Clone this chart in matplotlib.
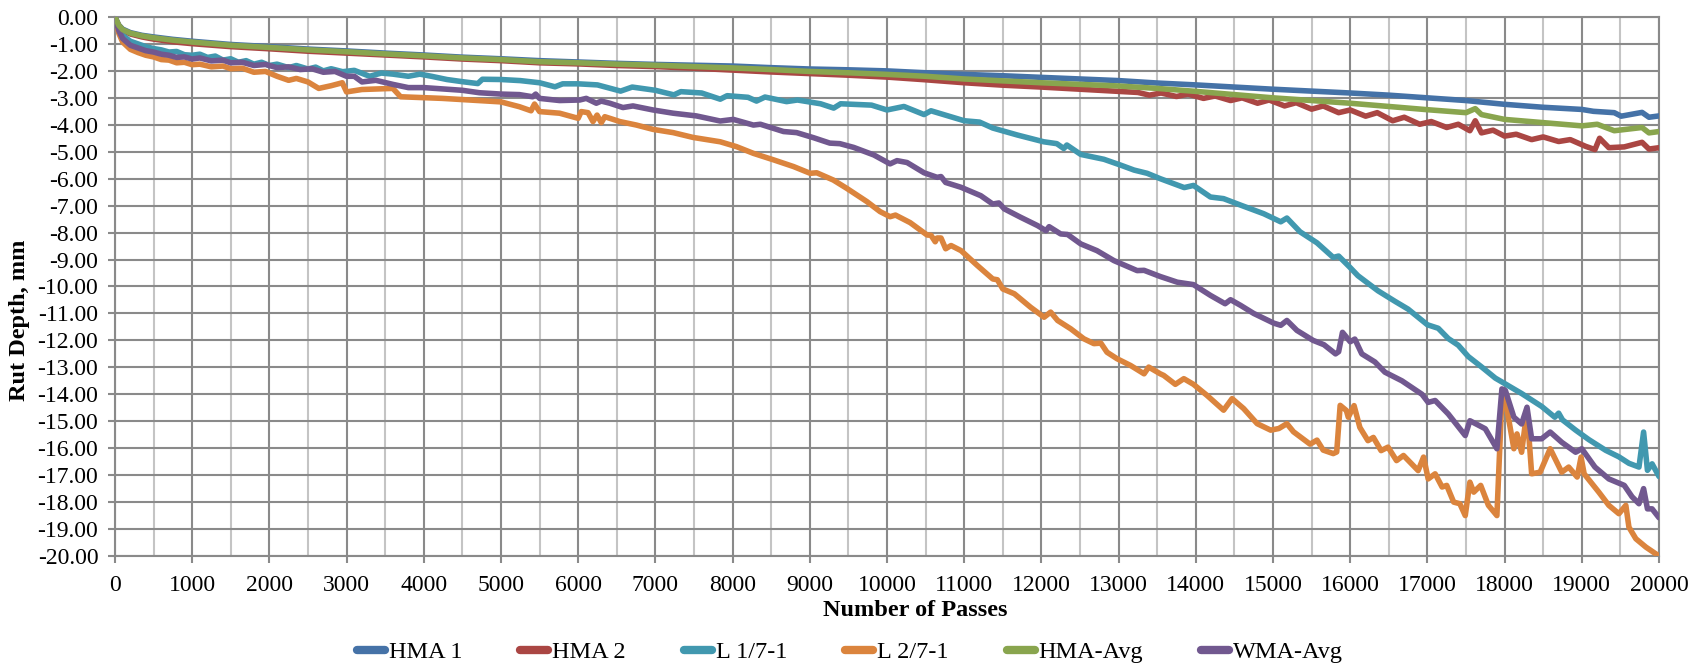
import matplotlib
matplotlib.use("Agg")
import matplotlib.pyplot as plt
from matplotlib.ticker import MultipleLocator, FormatStrFormatter

plt.rcParams['font.family'] = ['Liberation Serif', 'DejaVu Serif']

# ---- data (passes, rut depth mm) ----
x_hma1 = [0, 25, 50, 100, 200, 350, 500, 750, 1000, 1500, 2000, 2500, 3000, 3500, 4000,
          4500, 5000, 5500, 6000, 6500, 7000, 7500, 8000, 8500, 9000, 9500, 10000, 10500,
          11000, 11500, 12000, 12500, 13000, 13500, 14000, 14500, 15000, 15500, 16000,
          16500, 17000, 17500, 18000, 18500, 19000, 19150, 19420, 19510, 19780, 19870, 20000]
y_hma1 = [0, -0.15, -0.3, -0.45, -0.58, -0.68, -0.74, -0.83, -0.9, -1.02, -1.1, -1.19, -1.26,
          -1.34, -1.41, -1.49, -1.55, -1.62, -1.67, -1.72, -1.76, -1.79, -1.82, -1.88, -1.93,
          -1.96, -2.0, -2.07, -2.13, -2.18, -2.24, -2.3, -2.36, -2.45, -2.52, -2.6, -2.68,
          -2.75, -2.82, -2.9, -3.0, -3.1, -3.24, -3.35, -3.43, -3.5, -3.55, -3.68, -3.54,
          -3.72, -3.67]

x_hma2 = [0, 25, 50, 100, 200, 350, 500, 750, 1000, 1500, 2000, 2500, 3000, 3500, 4000,
          4500, 5000, 5500, 6000, 6500, 7000, 7500, 8000, 8500, 9000, 9500, 10000, 10500,
          11000, 11500, 12000, 12500, 13000, 13250, 13400, 13550, 13750, 13900, 14100,
          14250, 14450, 14600, 14800, 14950, 15150, 15300, 15500, 15650, 15850, 16000,
          16200, 16350, 16550, 16700, 16900, 17050, 17250, 17400, 17550, 17620, 17700,
          17850, 18000, 18150, 18350, 18500, 18700, 18850, 19050, 19170, 19230, 19350,
          19550, 19780, 19870, 20000]
y_hma2 = [0, -0.18, -0.33, -0.5, -0.63, -0.74, -0.82, -0.92, -0.99, -1.1, -1.18, -1.27, -1.34,
          -1.41, -1.48, -1.56, -1.62, -1.7, -1.74, -1.8, -1.84, -1.9, -1.97, -2.04, -2.1,
          -2.16, -2.23, -2.33, -2.44, -2.53, -2.6, -2.68, -2.76, -2.8, -2.9, -2.82, -2.95,
          -2.86, -3.02, -2.93, -3.1, -3.0, -3.2, -3.08, -3.3, -3.18, -3.42, -3.3, -3.55,
          -3.45, -3.68, -3.55, -3.85, -3.72, -3.98, -3.88, -4.1, -3.98, -4.22, -3.85, -4.3,
          -4.2, -4.42, -4.35, -4.55, -4.45, -4.62, -4.55, -4.8, -4.92, -4.5, -4.85, -4.82,
          -4.65, -4.9, -4.85]

x_l17 = [0, 25, 50, 100, 200, 300, 400, 500, 600, 700, 800, 900, 1000, 1100, 1200, 1300,
         1400, 1500, 1600, 1700, 1800, 1900, 2000, 2100, 2250, 2350, 2500, 2600, 2700, 2800,
         2950, 3100, 3300, 3450, 3600, 3800, 3950, 4100, 4300, 4500, 4700, 4760, 5000, 5250,
         5500, 5700, 5800, 6000, 6250, 6550, 6700, 7000, 7240, 7330, 7600, 7840, 7930, 8200,
         8310, 8420, 8700, 8840, 9140, 9310, 9400, 9800, 10000, 10220, 10480, 10570, 11000,
         11200, 11370, 11690, 12030, 12200, 12290, 12330, 12510, 12810, 13030, 13200, 13370,
         13540, 13850, 13970, 14190, 14360, 14580, 14880, 15100, 15180, 15350, 15570, 15780,
         15850, 16000, 16100, 16360, 16580, 16750, 17000, 17140, 17270, 17400, 17530, 17700,
         17880, 18000, 18220, 18480, 18650, 18700, 18750, 18920, 19090, 19310, 19480, 19610,
         19740, 19800, 19850, 19910, 20000]
y_l17 = [0, -0.2, -0.45, -0.68, -0.9, -1.0, -1.1, -1.17, -1.22, -1.3, -1.28, -1.4, -1.42,
         -1.38, -1.5, -1.45, -1.6, -1.55, -1.68, -1.62, -1.75, -1.68, -1.8, -1.75, -1.88,
         -1.8, -1.93, -1.86, -2.0, -1.92, -2.03, -1.98, -2.2, -2.08, -2.12, -2.2, -2.12, -2.2,
         -2.32, -2.4, -2.47, -2.31, -2.32, -2.36, -2.44, -2.59, -2.48, -2.48, -2.52, -2.75,
         -2.6, -2.72, -2.89, -2.77, -2.82, -3.05, -2.92, -2.98, -3.12, -2.97, -3.14, -3.08,
         -3.22, -3.38, -3.22, -3.27, -3.45, -3.32, -3.62, -3.48, -3.85, -3.9, -4.12, -4.38,
         -4.63, -4.7, -4.88, -4.75, -5.1, -5.28, -5.5, -5.68, -5.8, -6.0, -6.33, -6.25, -6.68,
         -6.74, -6.98, -7.3, -7.6, -7.46, -7.97, -8.38, -8.92, -8.87, -9.3, -9.6, -10.16,
         -10.55, -10.84, -11.42, -11.55, -11.93, -12.18, -12.6, -12.98, -13.4, -13.6, -13.97,
         -14.45, -14.85, -14.7, -14.95, -15.33, -15.68, -16.08, -16.32, -16.56, -16.7, -15.4,
         -16.82, -16.58, -17.05]

x_l27 = [0, 25, 50, 100, 200, 300, 400, 500, 600, 700, 800, 900, 1000, 1100, 1250, 1400,
         1500, 1650, 1800, 1950, 2100, 2250, 2350, 2500, 2640, 2800, 2945, 3000, 3200, 3600,
         3700, 4240, 5000, 5240, 5390, 5435, 5500, 5760, 6000, 6040, 6128, 6192, 6245, 6300,
         6345, 6540, 6755, 6970, 7230, 7490, 7840, 8050, 8270, 8530, 8790, 9005, 9090, 9305,
         9480, 9740, 9910, 10040, 10110, 10300, 10520, 10570, 10625, 10650, 10700, 10760,
         10830, 10960, 11170, 11370, 11430, 11500, 11650, 11860, 12035, 12120, 12210, 12380,
         12550, 12680, 12770, 12850, 12980, 13155, 13330, 13390, 13540, 13585, 13735, 13845,
         13970, 14145, 14360, 14470, 14620, 14795, 14970, 15075, 15180, 15265, 15480, 15570,
         15650, 15780, 15825, 15870, 15950, 15975, 16050, 16125, 16230, 16300, 16400, 16490,
         16600, 16690, 16880, 16950, 17010, 17100, 17190, 17250, 17340, 17420, 17490, 17550,
         17600, 17690, 17790, 17900, 17965, 18010, 18120, 18160, 18220, 18290, 18350, 18460,
         18590, 18740, 18830, 18940, 18990, 19030, 19220, 19350, 19480, 19570, 19610, 19700,
         19830, 20000]
y_l27 = [0, -0.3, -0.6, -0.93, -1.2, -1.32, -1.42, -1.48, -1.58, -1.6, -1.7, -1.68, -1.77,
         -1.75, -1.85, -1.82, -1.92, -1.9, -2.05, -2.02, -2.2, -2.35, -2.28, -2.41, -2.65,
         -2.55, -2.44, -2.78, -2.69, -2.65, -2.96, -3.02, -3.15, -3.33, -3.48, -3.23, -3.51,
         -3.57, -3.76, -3.51, -3.55, -3.88, -3.64, -3.92, -3.7, -3.88, -4.01, -4.17, -4.29,
         -4.47, -4.63, -4.81, -5.06, -5.3, -5.55, -5.8, -5.78, -6.05, -6.36, -6.85, -7.22,
         -7.41, -7.35, -7.63, -8.09, -8.1, -8.34, -8.2, -8.2, -8.6, -8.48, -8.67, -9.22,
         -9.72, -9.75, -10.09, -10.27, -10.77, -11.14, -10.95, -11.26, -11.57, -11.94, -12.12,
         -12.1, -12.44, -12.68, -12.93, -13.24, -12.99, -13.24, -13.3, -13.63, -13.42, -13.63,
         -14.04, -14.59, -14.16, -14.53, -15.09, -15.33, -15.27, -15.09, -15.39, -15.85,
         -15.7, -16.07, -16.2, -16.14, -14.41, -14.6, -14.85, -14.42, -15.23, -15.72, -15.6,
         -16.09, -15.96, -16.46, -16.27, -16.83, -16.33, -17.14, -16.95, -17.44, -17.38,
         -18.0, -18.06, -18.5, -17.26, -17.63, -17.38, -18.12, -18.5, -14.11, -14.23, -16.02,
         -15.47, -16.15, -14.6, -16.95, -16.89, -16.02, -16.89, -16.7, -17.07, -16.33, -16.95,
         -17.63, -18.12, -18.43, -18.12, -18.93, -19.36, -19.67, -20.0]

x_hmaavg = [0, 25, 50, 100, 200, 350, 500, 750, 1000, 1500, 2000, 2500, 3000, 3500, 4000,
            4500, 5000, 5500, 6000, 6500, 7000, 7500, 8000, 8500, 9000, 9500, 10000, 10500,
            11000, 11500, 12000, 12500, 13000, 13500, 14000, 14500, 15000, 15500, 16000,
            16500, 17000, 17500, 17620, 17700, 18000, 18500, 19000, 19200, 19420, 19780,
            19870, 20000]
y_hmaavg = [0, -0.15, -0.31, -0.47, -0.6, -0.7, -0.77, -0.86, -0.93, -1.05, -1.13, -1.22,
            -1.29, -1.37, -1.44, -1.52, -1.58, -1.66, -1.7, -1.75, -1.79, -1.84, -1.89, -1.95,
            -2.02, -2.07, -2.13, -2.2, -2.3, -2.37, -2.44, -2.5, -2.56, -2.65, -2.76, -2.88,
            -3.0, -3.1, -3.2, -3.32, -3.44, -3.55, -3.4, -3.62, -3.8, -3.92, -4.04, -3.98,
            -4.22, -4.1, -4.3, -4.25]

x_wmaavg = [0, 25, 50, 100, 200, 300, 400, 500, 600, 700, 800, 900, 1000, 1100, 1250, 1400,
            1500, 1650, 1800, 1950, 2100, 2250, 2400, 2550, 2700, 2850, 3000, 3100, 3200, 3380,
            3600, 3800, 4000, 4500, 4720, 5000, 5240, 5410, 5450, 5500, 5760, 6020, 6105, 6235,
            6300, 6410, 6580, 6710, 6970, 7230, 7530, 7840, 8010, 8270, 8360, 8660, 8830, 9050,
            9260, 9390, 9570, 9830, 10040, 10130, 10260, 10480, 10650, 10700, 10760, 10960,
            11215, 11370, 11450, 11520, 11730, 11950, 12060, 12100, 12250, 12340, 12510, 12720,
            12940, 13240, 13330, 13540, 13760, 13970, 14190, 14380, 14450, 14580, 14750, 15010,
            15100, 15180, 15310, 15520, 15660, 15810, 15850, 15900, 16000, 16060, 16150, 16320,
            16450, 16670, 16930, 17010, 17100, 17270, 17490, 17550, 17750, 17900, 17965, 18010,
            18120, 18220, 18290, 18350, 18480, 18590, 18740, 18920, 19000, 19170, 19350, 19550,
            19650, 19740, 19800, 19850, 19910, 20000]
y_wmaavg = [0, -0.25, -0.5, -0.8, -1.05, -1.15, -1.25, -1.3, -1.38, -1.42, -1.5, -1.48, -1.56,
            -1.52, -1.63, -1.6, -1.7, -1.68, -1.8, -1.76, -1.88, -1.85, -1.95, -1.92, -2.05,
            -2.02, -2.2, -2.2, -2.41, -2.35, -2.5, -2.62, -2.62, -2.72, -2.81, -2.86, -2.88,
            -2.96, -2.86, -3.02, -3.1, -3.08, -3.02, -3.2, -3.12, -3.2, -3.36, -3.3, -3.45,
            -3.57, -3.67, -3.86, -3.8, -4.01, -3.98, -4.25, -4.29, -4.48, -4.68, -4.7, -4.84,
            -5.12, -5.45, -5.33, -5.4, -5.78, -5.95, -5.92, -6.14, -6.32, -6.63, -6.94, -6.9,
            -7.12, -7.43, -7.74, -7.93, -7.78, -8.05, -8.07, -8.42, -8.67, -9.04, -9.41, -9.4,
            -9.63, -9.84, -9.93, -10.33, -10.64, -10.49, -10.7, -11.0, -11.36, -11.44, -11.26,
            -11.63, -12.0, -12.16, -12.5, -12.42, -11.7, -12.05, -11.95, -12.5, -12.8, -13.18,
            -13.5, -14.0, -14.3, -14.23, -14.73, -15.53, -14.98, -15.28, -16.02, -13.8, -13.86,
            -14.85, -15.1, -14.48, -15.65, -15.65, -15.4, -15.78, -16.15, -16.02, -16.7, -17.14,
            -17.38, -17.8, -18.06, -17.5, -18.25, -18.25, -18.58]

labels = ["HMA 1", "HMA 2", "L 1/7-1", "L 2/7-1", "HMA-Avg", "WMA-Avg"]
colors = ["#4572A7", "#AA4643", "#4198AF", "#DB843D", "#89A54E", "#71588F"]

series = [(x_hma1, y_hma1), (x_hma2, y_hma2), (x_l17, y_l17),
          (x_l27, y_l27), (x_hmaavg, y_hmaavg), (x_wmaavg, y_wmaavg)]

fig = plt.figure(figsize=(17, 6.69), dpi=100)
ax = fig.add_axes([0.0676, 0.1689, 0.9083, 0.8057])

# draw order: HMA-Avg on top of HMA 1 / HMA 2 like the original
order = [0, 1, 2, 3, 5, 4]
lines = {}
for i in order:
    xs, ys = series[i]
    ln, = ax.plot(xs, ys, color=colors[i], lw=4, solid_joinstyle='round',
                  solid_capstyle='round', label=labels[i], zorder=3)
    lines[i] = ln

ax.set_xlim(0, 20000)
ax.set_ylim(-20, 0)
ax.xaxis.set_major_locator(MultipleLocator(1000))
ax.xaxis.set_minor_locator(MultipleLocator(500))
ax.yaxis.set_major_locator(MultipleLocator(1))
ax.yaxis.set_major_formatter(FormatStrFormatter('%.2f'))

ax.grid(which='minor', axis='x', color='#c4c4c4', lw=1.5, zorder=0)
ax.grid(which='major', axis='both', color='#8a8a8a', lw=1.5, zorder=1)
ax.set_axisbelow(True)

for s in ax.spines.values():
    s.set_color('#8a8a8a')
    s.set_linewidth(1.5)

ax.tick_params(axis='both', which='major', direction='out', length=5, width=1.5,
               color='#8a8a8a', labelsize=17, pad=7)
ax.tick_params(axis='x', which='major', pad=9)
ax.tick_params(axis='x', which='minor', length=0)

fig.text(915 / 1700, 1 - 610 / 669, "Number of Passes", ha='center', va='center',
         fontsize=17.5, fontweight='bold')
fig.text(20 / 1700, 1 - 320 / 669, "Rut Depth, mm", ha='center', va='center',
         rotation=90, fontsize=17.5, fontweight='bold')

handles = [lines[i] for i in range(6)]
leg = fig.legend(handles, labels, loc='center', bbox_to_anchor=(0.5, 1 - 652 / 669),
                 ncol=6, frameon=False, fontsize=17.5, handlelength=1.15,
                 handletextpad=0.15, columnspacing=2.4)
for h in leg.get_lines():
    h.set_linewidth(6)

fig.savefig("out.png", dpi=100)
